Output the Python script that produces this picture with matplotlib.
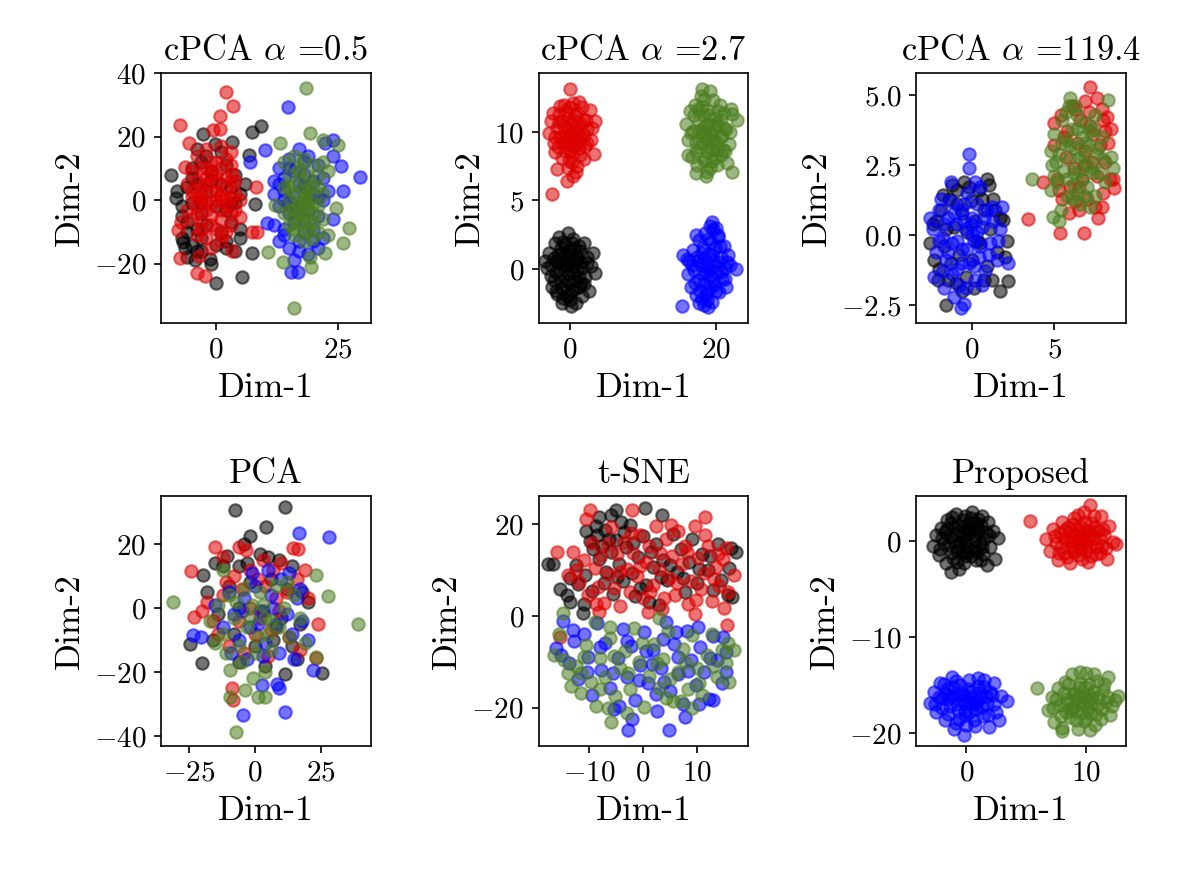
import numpy as np
import matplotlib
matplotlib.use('Agg')
import matplotlib.pyplot as plt

plt.rcParams['font.family'] = 'serif'
plt.rcParams['font.serif'] = ['cmr10', 'DejaVu Serif']
plt.rcParams['mathtext.fontset'] = 'cm'
plt.rcParams['axes.formatter.use_mathtext'] = True
plt.rcParams['axes.unicode_minus'] = True

# colours of the four groups (drawn in this order)
colors = ['black', '#dd0000', '#0000ff', '#4b7d1e']

titles = [r'cPCA $\alpha$ =0.5', r'cPCA $\alpha$ =2.7', r'cPCA $\alpha$ =119.4',
          'PCA', 't-SNE', 'Proposed']

xticks = [[0, 25], [0, 20], [0, 5], [-25, 0, 25], [-10, 0, 10], [0, 10]]
yticks = [[-20, 0, 20, 40], [0, 5, 10], [-2.5, 0, 2.5, 5], [-40, -20, 0, 20], [-20, 0, 20], [-20, -10, 0]]
xlims = [(-11.3, 31.8), (-4.25, 24.4), (-3.41, 9.39), (-35.6, 43.9), (-19.4, 19.6), (-4.17, 13.3)]
ylims = [(-38.7, 40), (-3.94, 14.3), (-3.14, 5.79), (-43.1, 35), (-28.3, 26.1), (-21.35, 4.69)]

# ---- cPCA alpha=0.5 ----
p1_black = [(-9.3,7.9),(-8.2,0.7),(-2.7,20.8),(-0.3,17.6),(3.2,18.4),(7.3,21.5),(9.2,23.4),(6.8,14.2),(8.0,-1.3),
            (7.3,-16.7),(5.3,-24.3),(0.1,-26.0),(-6.4,-15.2),(-1.2,-18.6),(-4.4,-19.0),(-6.8,-13.1),
            (-5,10),(-3,12),(-1,9),(2,11),(4,8),(-6,4),(-4,5),(-2,3),(1,5),(3,4),(5,2),(-7,-2),(-5,-1),(-3,-4),
            (0,-2),(2,-3),(4,-1),(-6,-7),(-4,-9),(-2,-8),(1,-10),(3,-7),(5,-9),(-7,-12),(-5,-14),(-3,-12),(0,-14),
            (2,-13),(4,-16),(-2,14),(1,15),(-4,16),(6,5),(-8,3),(-6,-18),(-3,-16),
            (-5,7),(-3,-1),(-1,6),(3,-1),(-7,-5),(-4,-16),(2,-15),(-6,-10),(5,-12),(-1,-20)]
p1_red = [(2,34),(3.5,29.6),(0.8,26.5),(-7.4,23.6),(-0.6,22),(0.8,22.5),(-5.5,18),(8.3,4.2),(7.4,-10),(8.4,-10),
          (3.2,-16),(-7.4,-18.3),(-4,-23),(-2.3,-24),(-3.5,-17.7),(-6.4,10.5),(-7.8,-9.5),(-7.2,-6.8),(4.9,-5.3),(3.2,8.2),
          (-4,14),(-2,16),(1,17),(3,15),(-5,9),(-3,10),(-1,12),(1,10),(3,11),(4,6),(-6,5),(-4,6),(-2,7),(0,6),(2,7),
          (-5,1),(-3,2),(-1,3),(1,2),(3,1),(5,0),(-6,-3),(-4,-2),(-2,-1),(0,0),(2,-2),(4,-3),(-5,-6),(-3,-7),(-1,-5),
          (1,-6),(3,-8),(-4,-11),(-2,-12),(0,-9),(2,-10),(-1,-15),(1,-13),(-3,4),(0,8),(2,4),(-2,-3),
          (-3,0),(-1,-1),(1,1),(-2,5),(0,3),(2,0),(-4,-4),(-1,8),(1,-3),(-3,-9),(3,-4),(-5,3),(0,12),(2,13),
          (-1,-8),(4,2),(-2,10),(1,-11),(-4,1),(3,6)]
p1_blue = [(14.8,29.3),(10,15.7),(7,12),(29.5,7.3),(10.4,-7.3),(15.5,-22.6),(16.9,-22.6),(24,14),(25.6,10.6),(22.4,18),(24,19),
           (13,10),(15,13),(17,16),(19,14),(21,11),(12,6),(14,7),(16,9),(18,8),(20,6),(22,7),(23,3),(12,2),(14,3),(16,1),
           (18,4),(20,2),(22,0),(13,-2),(15,-4),(17,-2),(19,-3),(21,-5),(24,-6),(12,-8),(14,-9),(16,-7),(18,-10),(20,-9),
           (22,-12),(13,-13),(15,-15),(17,-13),(19,-17),(16,-19),(21,-15),(17,5),(15,-1),(19,0),(26,3),
           (14,0),(16,-3),(18,-6),(13,5),(20,-13),(14,-11),(17,-16),(15,10),(21,1),(18,12)]
p1_green = [(18.4,35.4),(16,-34.1),(13.1,18),(25,17.3),(19.3,21),(21.9,19),(27.3,-8.8),(26,-13.6),(10.7,-16.3),(13.8,-19.4),
            (19.3,-18),(19.6,-21),(22.3,-16.7),(24.7,-2.5),(12.1,-1.6),
            (14,12),(16,14),(18,13),(20,11),(22,12),(15,8),(17,9),(19,7),(21,8),(23,9),(14,4),(16,5),(18,3),(20,4),(22,2),
            (15,0),(17,-1),(19,0),(21,-2),(14,-4),(16,-3),(18,-5),(20,-4),(22,-6),(15,-8),(17,-7),(19,-9),(21,-10),(16,-11),
            (18,-13),(20,-12),(23,-11),(17,-2),(18,1),(16,-6),(19,-3),
            (16,2),(18,-1),(17,-4),(19,3),(15,-3),(20,-1),(18,6),(16,-9),(19,-7),(17,10),(21,4),(15,4),(18,-10),(20,-7)]

# ---- cPCA alpha=2.7 ----
p2_black = [(-3.4,0.6),(-3.1,0.1),(-2.8,1.2),(-2.6,-0.5),(-2.4,-1.3),(-2.2,0.8),(-2,1.9),(-1.9,-0.2),(-1.7,-1.8),(-1.5,0.4),
            (-1.4,2.3),(-1.2,-0.9),(-1,1.2),(-0.9,-2.1),(-0.8,0),(-0.6,1.8),(-0.5,-1.2),(-0.3,0.7),(-0.2,2.6),(-0.1,-0.4),
            (0,-2.3),(0.1,1.3),(0.3,-1.5),(0.4,0.2),(0.5,2.2),(0.6,-0.8),(0.8,1),(0.9,-2.5),(1,-0.1),(1.2,1.7),(1.3,-1.3),
            (1.5,0.5),(1.7,-2.0),(1.9,1.9),(2.1,-0.6),(2.3,0.9),(2.6,-1.6),(2.9,0.2),(3.2,1.2),(3.4,-0.3),(-1.1,-2.5),
            (0.2,-2.7),(-0.4,0.3),(-1.6,1.0),(0.7,0.6),
            (-2.5,0.3),(-2.1,-0.8),(-1.8,0.6),(-1.4,-0.4),(-1.2,1.5),(-1.0,-1.4),(-0.7,0.3),(-0.5,1.1),(-0.3,-0.9),
            (-0.1,0.5),(0.1,-1.8),(0.3,1.9),(0.5,-0.3),(0.8,-1.4),(1.0,0.7),(1.2,-0.6),(1.4,1.3),(1.7,0.1),(2.0,-1.1),
            (2.4,0.4),(-1.9,-1.6),(-0.4,-2.0),(0.6,1.5),(-0.9,2.0),(1.6,-1.0)]
p2_red = [(0.1,13.1),(-2.4,5.45),(-2.8,9.9),(-2.5,10.8),(-2.2,9.2),(-2,8.5),(-1.8,10.3),(-1.5,11.3),(-1.3,9.6),(-1,8.1),
          (-1,10.8),(-0.8,12),(-0.6,9.1),(-0.5,11.5),(-0.3,7.4),(-0.2,10.2),(0,8.6),(0,11.8),(0.2,9.5),(0.3,7.8),(0.4,10.9),
          (0.5,12.1),(0.6,8.9),(0.8,10.1),(1,7.5),(1,11.4),(1.2,9.3),(1.4,8.3),(1.5,10.6),(1.7,11.8),(1.9,9.8),(2,8.0),
          (2.2,10.9),(2.4,9.2),(2.7,11.6),(3,10.3),(3.3,8.4),(3.5,10.8),(-1.8,7.3),(0.5,6.8),(-0.4,6.4),(1.3,12.2),
          (0.1,9.9),(-0.9,9.7),(1.1,9.9),
          (-2.0,9.6),(-1.6,8.9),(-1.4,10.7),(-1.1,9.3),(-0.8,10.4),(-0.7,8.6),(-0.4,9.6),(-0.2,11.0),(0,9.2),(0.2,10.6),
          (0.3,8.4),(0.5,9.7),(0.7,11.2),(0.9,9.1),(1.1,10.5),(1.3,8.8),(1.6,9.6),(1.8,10.9),(2.1,9.0),(2.4,10.2),
          (-1.3,11.9),(0.9,7.1),(-0.1,7.9),(-2.3,11.4),(2.9,9.4)]
p2_blue = [(19.4,3.4),(15.3,-2.7),(15.5,1.0),(22.7,0),(20,3),(20.3,2.5),(16.1,-0.4),(16.3,0.6),(16.5,-1.3),(16.8,1.4),
           (17,-0.1),(17.2,-1.9),(17.4,0.9),(17.6,2.1),(17.7,-0.8),(17.9,0.3),(18.1,-2.2),(18.2,1.6),(18.4,-1.1),(18.5,2.6),
           (18.7,0.2),(18.8,-1.6),(19,1.1),(19.1,-0.5),(19.3,2),(19.4,-2.4),(19.6,0.6),(19.7,-1.2),(19.9,1.5),(20.1,-0.2),
           (20.2,2.3),(20.4,-1.7),(20.6,0.9),(20.8,-0.7),(21,1.7),(21.2,0.1),(21.4,-1.3),(21.6,1),(21.9,0.3),(18.3,-2.6),
           (18.9,-2.8),(17.3,2.5),(19.5,2.9),(18.6,-0.3),
           (16.7,0.3),(17.1,-1.0),(17.5,0.6),(17.8,-1.6),(18.0,1.2),(18.2,-0.4),(18.4,0.8),(18.6,-1.9),(18.9,2.2),
           (19.0,-0.1),(19.2,-1.3),(19.4,1.0),(19.6,-0.7),(19.8,0.2),(20.0,-1.6),(20.3,0.5),(20.5,1.7),(20.7,-0.2),
           (21.2,-0.7),(17.6,-2.5),(18.7,-2.3),(19.1,3.1),(16.0,0.7),(21.5,0.5)]
p2_green = [(18.1,13.1),(17.3,7),(22.1,7.1),(22.8,10.9),(22.2,11.3),(15.9,10.6),(16.2,9.4),(16.4,11.5),(16.7,8.2),(16.9,10.1),
            (17.1,12),(17.2,9.2),(17.4,7.6),(17.6,10.8),(17.8,8.9),(18,11.8),(18.1,9.8),(18.3,7.9),(18.4,12.4),(18.6,10.5),
            (18.7,8.5),(18.9,9.5),(19,11.2),(19.2,7.4),(19.3,10),(19.5,12.3),(19.6,8.7),(19.8,11),(20,9.3),(20.1,7.6),
            (20.3,10.5),(20.5,12),(20.6,8.3),(20.8,9.7),(21,11.4),(21.3,10.2),(21.5,7.7),(21.7,9.1),(22,11.7),(19.4,9.8),
            (18.2,10.3),(17.5,11.7),(20.7,10.9),(19.9,8.1),(18.8,7.1),(21.2,8.6),
            (16.6,9.9),(17.0,11.2),(17.3,8.6),(17.7,10.1),(18.0,9.2),(18.2,11.2),(18.5,8.0),(18.5,9.9),(18.8,11.6),
            (19.0,8.9),(19.2,10.6),(19.4,7.9),(19.6,9.4),(19.8,10.5),(20.1,8.7),(20.3,11.5),(20.5,9.6),(20.9,8.7),
            (21.1,10.3),(17.9,12.6),(18.6,6.8),(19.1,13.0),(16.1,8.3),(21.9,10.0)]

# ---- cPCA alpha=119.4 ----
p3_black = [(-1.6,-2.5),(2.2,-1.64),(1.67,-2.0),(-1.75,1.43),(-1.0,-1.7),(0.7,-1.6),(2.1,-0.2),(1.9,0.55),
            (-2.6,-0.3),(-2.2,0.5),(-2.0,-1.2),(-1.9,0.9),(-1.7,-0.4),(-1.4,1.3),(-1.3,-1.0),(-1.1,0.3),(-0.9,1.6),
            (-0.8,-0.7),(-0.6,0.8),(-0.4,-1.5),(-0.3,0.1),(-0.1,1.2),(0,-0.9),(0.2,0.5),(0.4,1.6),(0.5,-0.3),(0.7,0.9),
            (0.9,-1.1),(1.1,0.2),(1.3,1.3),(1.5,-0.6),(1.7,0.6),(-2.3,-0.9),(-1.5,-1.6),(0.1,-1.9),(1.0,1.8),(-0.5,1.9),(0.3,-0.2),
            (-2.4,0.4),(-1.6,0.2),(-0.9,1.1),(-0.2,1.7),(0.6,1.3),(1.4,0.9),(2.0,-0.8),(1.2,-1.6),(-0.6,-2.0),(-2.1,-1.6),
            (-1.2,1.8),(0.9,2.0)]
p3_red = [(7.2,5.3),(3.4,0.57),(5.37,0.09),(6.85,0.09),(8.68,1.69),(8.6,2.0),(8.5,3.8),(8.0,4.1),(5.0,4.0),(4.3,1.9),
          (5.0,3.2),(5.2,2.0),(5.4,4.3),(5.5,1.3),(5.7,2.8),(5.8,3.7),(6.0,1.7),(6.1,4.6),(6.2,2.4),(6.4,3.3),(6.5,0.9),
          (6.6,4.1),(6.7,2.0),(6.9,3.0),(7.0,1.3),(7.1,4.4),(7.3,2.6),(7.4,3.6),(7.5,1.0),(7.6,2.1),(7.8,3.2),(7.9,4.5),
          (8.0,1.5),(8.1,2.6),(8.3,3.3),(7.7,0.6),(6.3,1.2),(5.9,0.8),(7.2,3.9),(6.8,2.5),
          (5.6,3.5),(6.3,4.5),(6.9,4.8),(7.6,4.9),(8.2,4.2),(8.4,2.0),(7.9,1.0),(5.3,1.6),(8.1,3.7),(6.5,1.7)]
p3_blue = [(-0.2,2.9),(-0.2,2.4),(-1.3,1.9),(-1.1,-2.2),(-0.5,-2.45),(-0.7,-2.6),(-2.6,0.6),(1.8,1.0),(2.2,-1.0),(-1.8,-1.3),
           (-2.4,0.2),(-2.2,-0.6),(-2.0,0.9),(-1.8,-0.1),(-1.6,-0.9),(-1.5,0.6),(-1.3,1.2),(-1.2,-0.3),(-1.0,0.4),(-0.9,-1.2),
           (-0.7,0.9),(-0.6,-0.5),(-0.4,0.2),(-0.3,1.5),(-0.2,-1.0),(0,0.6),(0.1,-0.2),(0.3,1.1),(0.4,-0.8),(0.6,0.3),
           (0.8,-1.3),(0.9,0.9),(1.1,-0.3),(1.3,0.5),(1.5,-0.9),(1.7,0.2),(0.2,-1.6),(-0.8,-1.8),(0.5,1.7),(-1.9,1.3),
           (0.0,0.0),(-0.5,0.5),
           (-2.0,-0.2),(-1.7,0.4),(-1.5,-0.6),(-1.1,0.8),(-0.9,-0.2),(-0.7,-1.0),(-0.5,1.1),(-0.3,-0.5),(-0.1,0.4),
           (0.1,-1.1),(0.3,0.1),(0.5,-0.4),(0.7,0.6),(1.0,-0.7),(1.2,1.0),(-1.2,-1.4),(-0.4,-1.9),(0.6,-1.8),(-1.7,-1.9),
           (0.2,1.9),(-2.3,-1.5),(1.6,-0.2)]
p3_green = [(8.27,4.82),(3.64,2.0),(4.96,0.65),(8.6,2.4),(5.3,0.5),(8.5,2.8),(4.8,1.6),(4.8,3.0),(4.9,2.5),(5.0,3.6),
            (5.2,1.9),(5.3,2.9),(5.5,4.1),(5.6,2.3),(5.7,3.4),(5.8,1.4),(5.9,4.6),(6.0,2.7),(6.1,3.8),(6.2,1.8),(6.3,3.1),
            (6.4,4.3),(6.5,2.3),(6.6,1.1),(6.7,3.5),(6.8,2.8),(6.9,4.0),(7.0,1.7),(7.1,3.2),(7.3,2.4),(7.4,3.8),(7.5,1.4),
            (7.6,2.9),(7.8,2.2),(7.9,3.5),(8.1,1.9),(6.0,4.9),(6.4,1.5),(5.4,0.9),(7.2,1.0),
            (5.1,2.6),(5.5,3.3),(5.8,2.0),(6.0,3.2),(6.2,2.2),(6.4,3.8),(6.5,2.8),(6.7,2.0),(6.9,3.3),(7.0,2.5),
            (7.2,3.7),(7.4,2.2),(7.7,3.1),(5.7,4.4),(6.3,4.6),(6.1,1.3),(6.9,1.4),(8.0,2.7),(5.0,2.1),(7.5,4.3)]

# ---- PCA ----
p4_black = [(-7.6,30.6),(11.4,31.4),(4.2,25.4),(-1.9,22.6),(-24.6,-11.3),(-20,-17.3),(25.3,-20.2),(11.4,-20.7),(-19.6,10.3),
            (-10.6,16.3),(-15,14),(-12,13),(-6,13),(-3,14),(2,17),(5,16),(9,15),(14,13),(-18,5),(-10,7),(-2,8),(6,9),(12,6),
            (18,5),(-14,-2),(-6,0),(3,-1),(10,-3),(17,-5),(-16,-10),(-8,-8),(0,-12),(7,-10),(14,-12),(-6,-17),(4,-18),
            (16,-16),(20,2),(-4,20),(8,-6)]
p4_red = [(-24.4,11.6),(-15,19),(-12,16),(-6,19),(-3.4,18),(14.5,18.8),(16.4,18.5),(-23,-2.7),(24,-5),(-8.2,-28.8),
          (23.3,-15.5),(-8.5,-25),(-18,2),(-16,-4),(-12,4),(-8,10),(-5,6),(-2,12),(1,9),(4,7),(7,12),(10,14),(12,5),(16,9),
          (20,3),(-14,-8),(-10,-12),(-6,-4),(-2,0),(2,-3),(6,-7),(9,-1),(13,-9),(17,-13),(-4,-14),(0,-8),(5,-15),(-11,8),
          (8,3),(19,12),(-20,-1),(3,15)]
p4_blue = [(16.8,23.3),(28,22.3),(-4.4,-33.4),(11.4,-32.6),(-23.4,-8.4),(22.1,-19.4),(2.5,-23.9),(8.2,-23.6),(-20.5,-9),
           (9,-25),(-15,1),(-12,-6),(-10,5),(-8,-2),(-6,-10),(-4,3),(-2,-6),(0,7),(2,-1),(4,-11),(6,4),(8,-5),(10,9),
           (12,-2),(14,-8),(16,3),(18,-4),(20,-10),(-9,-14),(-3,-16),(3,-15),(9,-14),(15,-16),(5,12),(-1,11),(13,11),
           (17,6),(-5,-1),(7,0),(1,-5)]
p4_green = [(-31,2),(27.8,3.6),(39.1,-5),(-7.2,-38.7),(-9.4,-19.4),(-0.6,-21.8),(-9.4,-27.7),(-3.8,-25.6),(1.3,-27.7),
            (3.8,-27.7),(23.3,10.3),(23.3,-15.2),(-12,12),(4,-20),(-17,-4),(-14,1),(-12,-8),(-10,4),(-8,-3),(-6,-12),
            (-4,6),(-3,-6),(-1,1),(1,-9),(2,5),(4,-3),(6,-13),(8,7),(9,-6),(11,0),(13,-9),(15,4),(17,-3),(19,-11),
            (-11,-14),(-5,-17),(0,-14),(6,-4),(3,1),(-7,2),(12,8),(-2,-3),(5,-8),(-15,-11)]

# ---- t-SNE ----
p5_black = [(-17.7,11.2),(-16.8,11.2),(-11.2,0.6),(0.4,23.4),(3.5,21.95),(16.3,14.7),(17.3,14),(-5,23),(-8.7,19.5),
            (-15.5,5.8),(-14.2,4.5),(-13.5,8.3),(-12,6.9),(-10.5,18.5),(-9.8,16.4),(-9.2,14.5),(-8.5,17.6),(-8.2,12.4),
            (-7.6,15.3),(-7,18.8),(-6.8,9.6),(-6,13.8),(-5.5,4.8),(-5,16.5),(-4.5,11.2),(-3.8,7.5),(-3.2,14.9),(-2.5,19.8),
            (-2,9.3),(-1.5,4.4),(-1,12.9),(0,17.4),(0.5,6.8),(1.2,3.1),(1.8,10.6),(2.5,15.7),(3,2.4),(3.8,12.1),(4.5,7.8),
            (5.5,17.8),(6.3,9.5),(7,14.6),(7.8,5.2),(8.5,11.8),(9.2,16.7),(10,7.2),(11,13.4),(12,9.9),(13,5.6),(14,15.6),
            (15.8,4.6),(16.5,4.2),(-11,2.6),(-4,20.5),
            (-12.5,11),(-10.8,9),(-9.4,5.5),(-7.2,7.2),(-6.3,16.8),(-4.8,8.4),(-3.5,18.2),(-1.8,15.9),(-0.6,6.1),(1.5,13.8),
            (3.3,8.5),(5,11),(7.5,8.2),(10.5,10.3),(12.5,13),(14.5,7.8),(16,10.5),(-8.2,21.5),(-6,22),(-13.6,3)]
p5_red = [(-15.5,-4.5),(-9.9,23),(-2.1,23),(15.6,-1.9),(15,1.7),(-16,14),(15.5,14.8),(17,9),(11.5,21.5),
          (-13,13.8),(-12.5,9.9),(-11.8,7.4),(-11,12.1),(-10.2,4.6),(-9.5,15.8),(-9,10.5),(-8.4,6.2),(-7.8,13.2),
          (-7.2,2.8),(-6.5,9.1),(-5.9,19.3),(-5.3,6.1),(-4.8,13.5),(-4.2,2.2),(-3.6,16.1),(-3,10.2),(-2.4,5.3),
          (-1.8,13.6),(-1.2,8.6),(-0.6,17.6),(0,3.9),(0.6,11.8),(1.2,15.3),(1.8,6.8),(2.4,19.6),(3,10.3),(3.6,1.5),
          (4.2,16.8),(4.8,8.3),(5.4,13.1),(6,4.5),(6.6,18.4),(7.2,11.4),(7.8,15.3),(8.4,2.5),(9,7.5),(9.6,19.5),
          (10.2,12.6),(10.8,5.8),(11.4,9.3),(12.1,15.2),(12.8,3.2),(13.5,10.7),(14.2,6.4),(14.9,12.4),(9.6,0.4),
          (-8.2,0.8),(1,0.8),
          (-14,9),(-10.5,21),(-8.8,2.5),(-6.5,15.6),(-4.2,9.6),(-2.2,18),(-0.5,10.8),(1.3,5.3),(3.2,13.6),(5.2,19.8),
          (6.3,7.2),(8.2,14),(9.8,3.5),(11.5,17.5),(13.2,8),(14,13.5),(15.8,5.3),(4,4)]
p5_blue = [(-2.7,-24.8),(4.9,-24.8),(-16.1,-7),(-14.9,-1.2),(15.5,-12.3),(13,-18.2),(-15.3,-8.6),(-13.7,-10.2),
           (-12.8,-5.4),(-12,-13.8),(-11,-3.9),(-10.2,-8.9),(-9.5,-17.2),(-8.6,-1.5),(-7.8,-11.8),(-7,-5.8),(-6.2,-15.6),
           (-5.4,-20.3),(-4.6,-9.2),(-3.8,-2.8),(-3,-13.3),(-2.2,-6.5),(-1.4,-18.3),(-0.6,-10.7),(0.2,-3.6),(1,-14.6),
           (1.8,-7.4),(2.6,-20.8),(3.4,-11.4),(4.2,-1.4),(5,-16.3),(5.8,-6.1),(6.6,-12.7),(7.4,-19.2),(8.2,-3.2),
           (9,-9.6),(9.8,-15.1),(10.6,-6.8),(11.4,-12.3),(12.2,-18.1),(13,-4.3),(13.8,-9.7),(14.6,-14.7),(15.4,-7.8),
           (0.5,-7.7),(3.8,-5),(-2,-22.5),(7.8,-22),(6.5,-9),
           (-13,-3),(-10.4,-12.1),(-8,-6.7),(-5.5,-12.4),(-3,-5.5),(-0.8,-14),(1.6,-10.5),(4,-14.3),(6.2,-3.5),
           (8.3,-12),(10.2,-2.5),(12.5,-9.2),(14.8,-4.6),(2.5,-17),(-4.5,-19.5),(10.5,-19.2)]
p5_green = [(16.9,-7.4),(-14.9,0.6),(16,-14.3),(-6,-23),(-6.5,-20),(-16.5,-8.5),(-14.6,-9.5),(-13.3,-15.2),(-12.4,-10.9),
            (-11.5,-16.8),(-10.6,-6.4),(-9.7,-14.3),(-8.8,-19.5),(-7.9,-9.1),(-7,-13.2),(-6.1,-4.8),(-5.2,-17.5),
            (-4.3,-11.3),(-3.4,-7.6),(-2.5,-15.9),(-1.6,-2.6),(-0.7,-10.1),(0.2,-19.8),(1.1,-13.1),(2,-6.2),(2.9,-15.6),
            (3.8,-9.4),(4.7,-3.3),(5.6,-18.6),(6.5,-12.2),(7.4,-7.2),(8.3,-15.9),(9.2,-4.1),(10.1,-11.3),(11,-17.2),
            (11.9,-8.6),(12.8,-3.9),(13.7,-13.3),(14.6,-7.4),(15.5,-10.3),(-9,-1.4),(3,-0.5),(-3,-21.2),(7,-18.5),
            (-11.6,-12.5),
            (-14,-12.5),(-11,-9),(-8,-15.8),(-5.4,-8.7),(-2.8,-12.5),(-0.2,-6),(2.6,-10.3),(5,-13.8),(7.8,-10),
            (10.5,-14.5),(13,-11),(15.8,-6),(-6.2,-2.5),(4.3,-17.8),(9.2,-20),(-15.6,-4)]

# ---- Proposed ----
p6_black = [(-2.8,-0.5),(-2.5,0.6),(-2.3,-1.5),(-2.1,1.4),(-1.9,-0.2),(-1.7,-2.3),(-1.6,2.2),(-1.4,0.4),(-1.2,-1.2),
            (-1.0,1.5),(-0.9,2.8),(-0.7,-0.6),(-0.6,-2.9),(-0.4,0.8),(-0.3,2.2),(-0.1,-1.6),(0,0.1),(0.2,1.9),(0.3,-0.9),
            (0.5,3.0),(0.6,0.6),(0.8,-2.0),(0.9,1.3),(1.1,-0.3),(1.3,2.6),(1.4,-1.4),(1.6,0.9),(1.8,2.0),(2.0,-0.6),
            (2.2,1.0),(2.4,-1.9),(2.6,0.3),(-1.3,-3.2),(1.7,-2.5),(-0.5,-0.1),(0.1,1.1),(-1.0,0.0),(0.7,-0.7),(-2.0,0.3),
            (1.0,2.3),(-0.2,-2.3),
            (-1.8,0.9),(-1.5,-0.4),(-1.3,1.9),(-1.1,-1.8),(-0.9,0.7),(-0.8,-1.0),(-0.6,1.6),(-0.4,-1.2),(-0.3,0.3),
            (-0.1,2.6),(0,-0.5),(0.2,0.8),(0.4,-1.6),(0.5,1.4),(0.7,0.1),(0.9,-1.1),(1.0,0.9),(1.2,1.7),(1.3,-0.6),
            (1.5,0.2),(-1.6,1.2),(-0.2,1.5),(0.4,2.4),(-0.8,-2.2),(1.9,0.6),(-2.2,-0.8),(0.0,-1.1),(0.8,1.9),(-1.2,2.5),
            (1.2,-2.0)]
p6_red = [(5.33,2.1),(6.6,0.2),(7.0,-1.0),(7.2,1.2),(7.5,-0.2),(7.6,-2.0),(7.8,0.8),(8.0,2.0),(8.1,-1.2),(8.3,0.1),
          (8.5,1.5),(8.6,-2.3),(8.8,-0.5),(9.0,2.4),(9.1,0.6),(9.3,-1.5),(9.5,1.6),(9.6,-0.3),(9.8,3.0),(9.9,0.9),
          (10.1,-2.2),(10.2,-0.6),(10.4,1.9),(10.6,0.2),(10.8,-1.4),(11.0,1.1),(11.2,2.6),(11.3,-0.5),(11.5,0.6),
          (11.7,-1.9),(11.9,1.6),(12.2,-0.1),(12.5,-0.3),(10.3,3.7),(9.4,0.2),(8.7,1.0),(10.0,-1.0),(8.9,-0.9),(11.1,0.3),
          (7.4,0.5),(7.9,-0.6),(8.2,1.1),(8.4,-1.7),(8.6,0.4),(8.9,1.8),(9.0,-1.1),(9.2,-0.1),(9.4,1.2),(9.6,-1.9),
          (9.7,0.5),(9.9,2.0),(10.0,-0.2),(10.2,1.0),(10.4,-1.6),(10.5,0.6),(10.7,1.5),(10.9,-0.6),(11.1,-1.2),
          (11.4,1.3),(8.1,0.3),(9.3,2.7),(10.6,2.6),(9.5,-0.8),(8.8,0.0),(10.1,0.3),(11.6,-0.7),(7.7,-1.2)]
p6_blue = [(-3.0,-16.9),(-2.7,-15.7),(-2.5,-17.8),(-2.2,-14.8),(-2.0,-16.4),(-1.8,-18.6),(-1.6,-15.4),(-1.4,-17.2),
           (-1.2,-14.2),(-1.0,-16.0),(-0.9,-19.0),(-0.7,-17.6),(-0.5,-15.0),(-0.3,-16.6),(-0.2,-20.2),(0,-18.1),
           (0.2,-14.5),(0.3,-16.9),(0.5,-15.6),(0.7,-19.3),(0.8,-17.5),(1.0,-14.3),(1.2,-16.2),(1.4,-18.2),(1.5,-15.2),
           (1.7,-17.0),(1.9,-19.4),(2.1,-16.0),(2.3,-14.8),(2.5,-17.8),(3.4,-16.7),(-0.6,-16.0),(0.6,-17.0),(-1.5,-16.5),
           (1.1,-15.8),(-0.1,-17.7),(2.7,-18.6),
           (-2.3,-16.2),(-2.0,-17.4),(-1.7,-15.9),(-1.5,-18.0),(-1.3,-16.3),(-1.1,-15.2),(-0.8,-17.0),(-0.6,-18.5),
           (-0.4,-15.8),(-0.2,-16.9),(0.1,-15.4),(0.3,-17.8),(0.4,-16.2),(0.6,-18.6),(0.9,-16.6),(1.0,-15.1),
           (1.3,-17.3),(1.6,-16.1),(1.8,-18.1),(2.0,-15.7),(-1.9,-14.9),(-0.9,-14.6),(0.0,-19.2),(1.5,-14.5),
           (2.3,-17.0),(-2.6,-17.0),(-0.1,-16.1),(0.8,-16.9),(-1.0,-19.6),(2.9,-16.1)]
p6_green = [(5.9,-15.35),(6.8,-17.6),(7.1,-16.2),(7.3,-18.9),(7.6,-15.3),(7.8,-17.1),(8.0,-19.5),(8.2,-14.7),(8.4,-16.5),
            (8.6,-18.3),(8.8,-13.9),(9.0,-15.8),(9.1,-17.7),(9.3,-19.6),(9.5,-14.9),(9.7,-16.9),(9.8,-18.8),(10.0,-13.7),
            (10.2,-15.9),(10.3,-17.9),(10.5,-16.4),(10.7,-19.2),(10.9,-14.6),(11.0,-17.1),(11.2,-18.5),(11.4,-15.5),
            (11.6,-16.8),(11.8,-14.2),(12.1,-17.2),(12.4,-16.6),(9.4,-16.3),(8.9,-17.3),(10.1,-17.5),(9.9,-15.2),(8.3,-17.8),
            (7.2,-17.4),(7.5,-16.5),(7.9,-18.2),(8.1,-15.8),(8.3,-16.9),(8.5,-14.9),(8.7,-17.5),(8.9,-15.9),(9.1,-18.6),
            (9.2,-16.4),(9.4,-15.2),(9.6,-17.8),(9.8,-16.2),(10.0,-18.4),(10.2,-14.9),(10.4,-16.9),(10.6,-15.7),
            (10.8,-18.0),(11.0,-16.2),(11.3,-17.5),(11.5,-14.9),(11.8,-16.3),(12.0,-18.1),(9.5,-13.6),(10.6,-13.9),
            (8.0,-19.8),(10.3,-19.7),(12.6,-16.1),(9.3,-17.0),(10.1,-16.6)]

panels = [[p1_black, p1_red, p1_blue, p1_green],
          [p2_black, p2_red, p2_blue, p2_green],
          [p3_black, p3_red, p3_blue, p3_green],
          [p4_black, p4_red, p4_blue, p4_green],
          [p5_black, p5_red, p5_blue, p5_green],
          [p6_black, p6_red, p6_blue, p6_green]]

fig, axes = plt.subplots(2, 3, figsize=(1195/150, 874/150), dpi=150)
plt.subplots_adjust(left=0.1347, right=0.9423, bottom=0.1465, top=0.9165, wspace=0.8, hspace=0.692)

for i, ax in enumerate(axes.flat):
    for pts, c in zip(panels[i], colors):
        pts = np.array(pts)
        ax.scatter(pts[:, 0], pts[:, 1], s=36, color=c, alpha=0.55)
    ax.set_xlim(xlims[i])
    ax.set_ylim(ylims[i])
    ax.set_xticks(xticks[i])
    ax.set_yticks(yticks[i])
    ax.tick_params(labelsize=14)
    ax.set_title(titles[i], fontsize=16.5)
    ax.set_xlabel('Dim-1', fontsize=17)
    ax.set_ylabel('Dim-2', fontsize=17)

plt.savefig('out.png', dpi=150)
